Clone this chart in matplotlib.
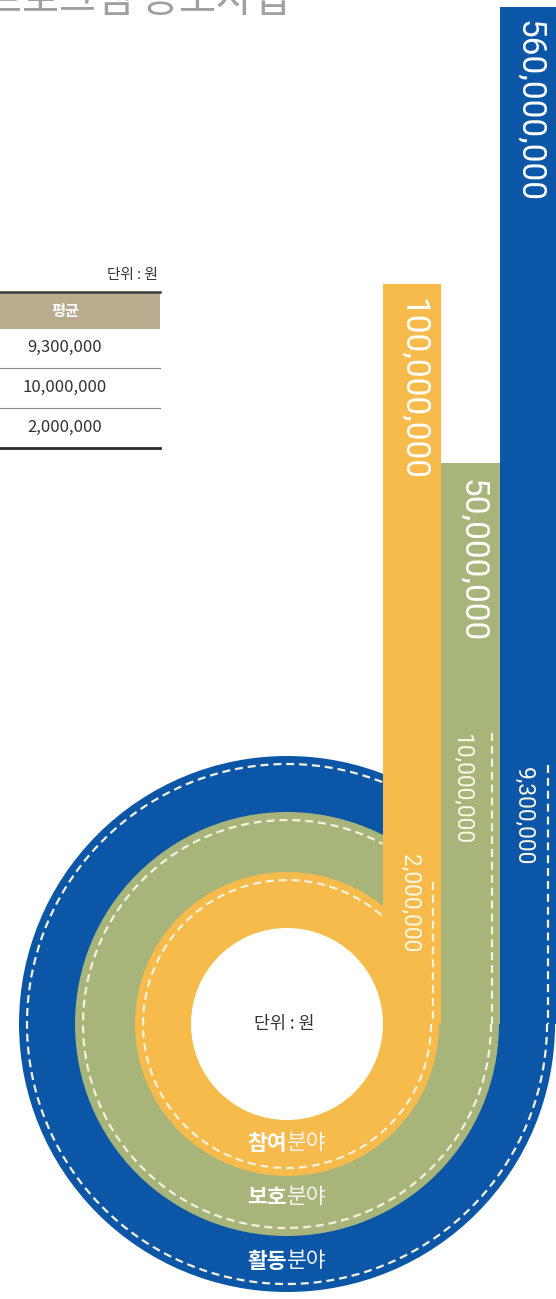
import matplotlib.pyplot as plt
from matplotlib.patches import Rectangle, Circle, Arc

# data
fields = ['활동분야', '보호분야', '참여분야']
max_vals = [560000000, 50000000, 100000000]
avg_vals = [9300000, 10000000, 2000000]
title = '프로그램 공모사업'
unit = '단위 : 원'
col_head = '평균'

colors = ['#0b56a6', '#a8b57a', '#f6bb4b']
dash_col = '#f4f1dc'
KR = ['Noto Sans CJK KR', 'DejaVu Sans']
NUM = ['Roboto', 'DejaVu Sans']

# layout (pixels)
W, H = 556, 1299
CX, CY = 287, 1024
r_hole = 96
r_out = [268, 212, 152]
bar_x = [(500, 556), (441, 500), (383, 441)]
bar_top = [7, 463, 284]
dash_top = [765, 733, 882]
arc_end = [292, 298, 312]
big_lab_y = [111, 561, 389]
small_lab_x = [523, 462, 410]
small_lab_y = [816, 789, 903]
field_y = [1261, 1197, 1143]

fig = plt.figure(figsize=(W / 100, H / 100), dpi=100)
ax = fig.add_axes([0, 0, 1, 1])
ax.set_xlim(0, W)
ax.set_ylim(H, 0)
ax.axis('off')

for i in range(3):
    c = colors[i]
    ax.add_patch(Circle((CX, CY), r_out[i], color=c, lw=0))
    x0, x1 = bar_x[i]
    ax.add_patch(Rectangle((x0, bar_top[i]), x1 - x0, CY - bar_top[i], color=c, lw=0))
    rd = r_out[i] - 8
    ax.add_patch(Arc((CX, CY), 2 * rd, 2 * rd, theta1=0, theta2=arc_end[i],
                     color=dash_col, lw=1.6, linestyle=(0, (3.6, 2.2))))
    ax.plot([x1 - 8, x1 - 8], [dash_top[i], CY], color=dash_col, lw=1.6,
            linestyle=(0, (3.6, 2.2)))
    # value labels
    ax.text((x0 + x1) / 2 + 1, big_lab_y[i], f'{max_vals[i]:,}', rotation=-90,
            ha='center', va='center', color='white', fontsize=24, family=NUM)
    ax.text(small_lab_x[i], small_lab_y[i], f'{avg_vals[i]:,}', rotation=-90,
            ha='center', va='center', color='#fbf8e6', fontsize=16.5, family=NUM)

ax.add_patch(Circle((CX, CY), r_hole, color='white', lw=0))
ax.text(CX - 3, CY, unit, ha='center', va='center', fontsize=12.5, color='#333333', family=KR)

for i in range(3):
    name = fields[i]
    ax.text(CX, field_y[i], name[:2], ha='right', va='center', fontsize=15.5,
            color='white', family=KR, fontweight='bold')
    ax.text(CX, field_y[i], name[2:], ha='left', va='center', fontsize=15.5,
            color='#f4f4f4', family=KR)

# title (cut off at top, as in the source)
ax.text(290, 12, title, ha='right', va='baseline', fontsize=29, color='#a0a0a0', family=KR)

# table (partly off canvas)
ax.text(158, 275, unit, ha='right', va='center', fontsize=10.5, color='#333333', family=KR)
ax.add_patch(Rectangle((0, 292), 160, 37, color='#b9ab8d', lw=0))
ax.plot([0, 160], [292, 292], color='#3a3a3a', lw=1.8)
ax.text(65, 311, col_head, ha='center', va='center', fontsize=11, color='white',
        family=KR, fontweight='bold')
row_y = [347, 387, 427]
for i in range(3):
    ax.text(65, row_y[i], f'{avg_vals[i]:,}', ha='center', va='center', fontsize=12,
            color='#333333', family=KR)
for y in [368, 408]:
    ax.plot([0, 160], [y, y], color='#8a8a8a', lw=0.8)
ax.plot([0, 160], [448, 448], color='#2a2a2a', lw=2)

fig.savefig('out.png', dpi=100)
